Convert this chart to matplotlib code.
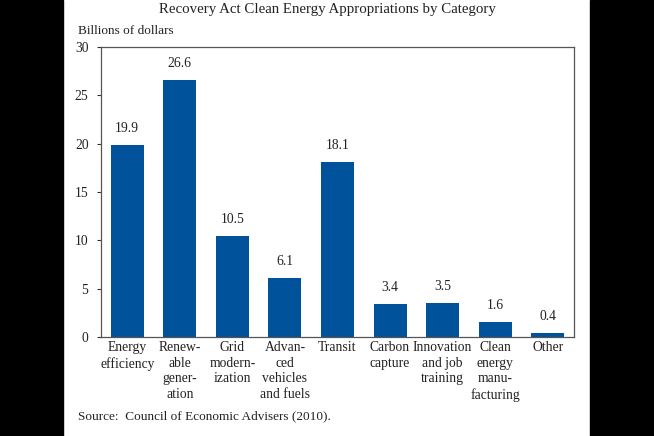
import matplotlib.pyplot as plt
from matplotlib.patches import Rectangle

categories = ["Energy\nefficiency", "Renew-\nable\ngener-\nation", "Grid\nmodern-\nization",
              "Advan-\nced\nvehicles\nand fuels", "Transit", "Carbon\ncapture",
              "Innovation\nand job\ntraining", "Clean\nenergy\nmanu-\nfacturing", "Other"]
values = [19.9, 26.6, 10.5, 6.1, 18.1, 3.4, 3.5, 1.6, 0.4]
yticks = [0, 5, 10, 15, 20, 25, 30]

plt.rcParams['font.family'] = ['Liberation Serif', 'DejaVu Serif']

fig = plt.figure(figsize=(6.54, 4.36), dpi=100)
ax = fig.add_axes([101 / 654, 99 / 436, 473 / 654, 290 / 436])

x = range(len(values))
ax.bar(x, values, width=0.63, color='#00529B')
for i, v in zip(x, values):
    ax.text(i, v + 1.0, f"{v:.1f}", ha='center', va='bottom', fontsize=9.8, color='#222222')

ax.set_xlim(-0.5, len(values) - 0.5)
ax.set_ylim(0, 30)
ax.set_yticks(yticks)
ax.tick_params(axis='y', direction='out', length=3, width=0.8, labelsize=9.8, pad=6,
               colors='#333333', labelcolor='#222222')
ax.set_xticks(list(x))
ax.set_xticklabels(categories, fontsize=9.8, linespacing=1.25, color='#222222')
ax.tick_params(axis='x', length=0, pad=3)
for s in ax.spines.values():
    s.set_color('#555555')
    s.set_linewidth(0.9)

fig.text(0.5, 1 - 10 / 436, "Recovery Act Clean Energy Appropriations by Category",
         ha='center', va='center', fontsize=10.7, color='#222222')
fig.text(78 / 654, 1 - 31 / 436, "Billions of dollars", ha='left', va='center',
         fontsize=9.5, color='#222222')
fig.text(78 / 654, 1 - 416 / 436, "Source:  Council of Economic Advisers (2010).",
         ha='left', va='center', fontsize=9.5, color='#222222')

# black side bands
fig.patches.append(Rectangle((0, 0), 63 / 654, 1, transform=fig.transFigure,
                             color='black', zorder=10))
fig.patches.append(Rectangle((590 / 654, 0), 64 / 654, 1, transform=fig.transFigure,
                             color='black', zorder=10))

fig.savefig('out.png', dpi=100)
